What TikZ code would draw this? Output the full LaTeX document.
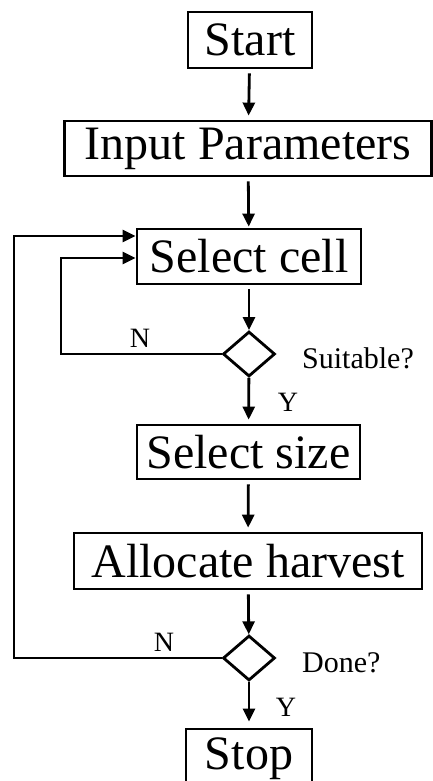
\documentclass[tikz,border=0pt]{standalone}
\usepackage{fontspec}
\setmainfont{Liberation Serif}
\usetikzlibrary{shapes.geometric,arrows.meta}

\begin{document}
\begin{tikzpicture}[x=1pt,y=-1pt,
  stepbox/.style={draw,line width=2.8pt,inner sep=0pt,
    font=\fontsize{48}{52}\selectfont},
  decision/.style={draw,diamond,line width=2.8pt,inner sep=0pt,
    minimum width=52pt,minimum height=45pt},
  flow/.style={line width=2.8pt,-{Triangle[length=13pt,width=12pt]}},
  loopline/.style={line width=2.4pt,-{Triangle[length=13pt,width=12pt]}},
  note/.style={inner sep=0pt,font=\fontsize{30}{34}\selectfont},
  yn/.style={inner sep=0pt,font=\fontsize{28}{32}\selectfont}]

\useasboundingbox (0,0) rectangle (433,781);

% process boxes
\node[stepbox,minimum width=124pt,minimum height=56pt] (start) at (250,40) {Start};
\node[stepbox,minimum width=367pt,minimum height=55pt] (input) at (248,148.5) {Input Parameters};
\node[stepbox,minimum width=224pt,minimum height=55pt] (cell) at (249,256.5) {Select cell};
\node[decision] (suit) at (249,354) {};
\node[stepbox,minimum width=223pt,minimum height=54pt] (size) at (248.5,452) {Select size};
\node[stepbox,minimum width=348pt,minimum height=56pt] (alloc) at (248,561) {Allocate harvest};
\node[decision] (done) at (249,658) {};
\node[stepbox,minimum width=126pt,minimum height=60pt] (stop) at (249,759) {Stop};

% labels beside the decisions
\node[note,anchor=west] (suitlbl) at (302,358) {Suitable?};
\node[note,anchor=west] (donelbl) at (302,663) {Done?};
\node[yn] (n1) at (140,338) {N};
\node[yn] (y1) at (288,402) {Y};
\node[yn] (n2) at (164,642) {N};
\node[yn] (y2) at (286,707) {Y};

% main flow
\draw[flow,shorten <=4pt,shorten >=4pt] (start) -- (input);
\draw[flow,shorten <=4pt,shorten >=1pt] (input) -- (cell);
\draw[flow,shorten <=4pt,shorten >=0pt] (cell) -- (suit);
\draw[flow,shorten >=4pt] (suit) -- (size);
\draw[flow,shorten <=4pt,shorten >=4pt] (size) -- (alloc);
\draw[flow,shorten <=4pt,shorten >=0pt] (alloc) -- (done);
\draw[flow,shorten >=6pt] (done) -- (stop);

% loop back when the cell is not suitable
\coordinate (innerx) at (61,0);
\coordinate (innerin) at (0,258);
\draw[loopline] (suit.west) -- (innerx |- suit.west) -- (innerx |- innerin) -- (cell.west |- innerin);

% loop back while not done
\coordinate (outerx) at (14,0);
\coordinate (outerin) at (0,236);
\draw[loopline] (done.west) -- (outerx |- done.west) -- (outerx |- outerin) -- (cell.west |- outerin);
\end{tikzpicture}
\end{document}
